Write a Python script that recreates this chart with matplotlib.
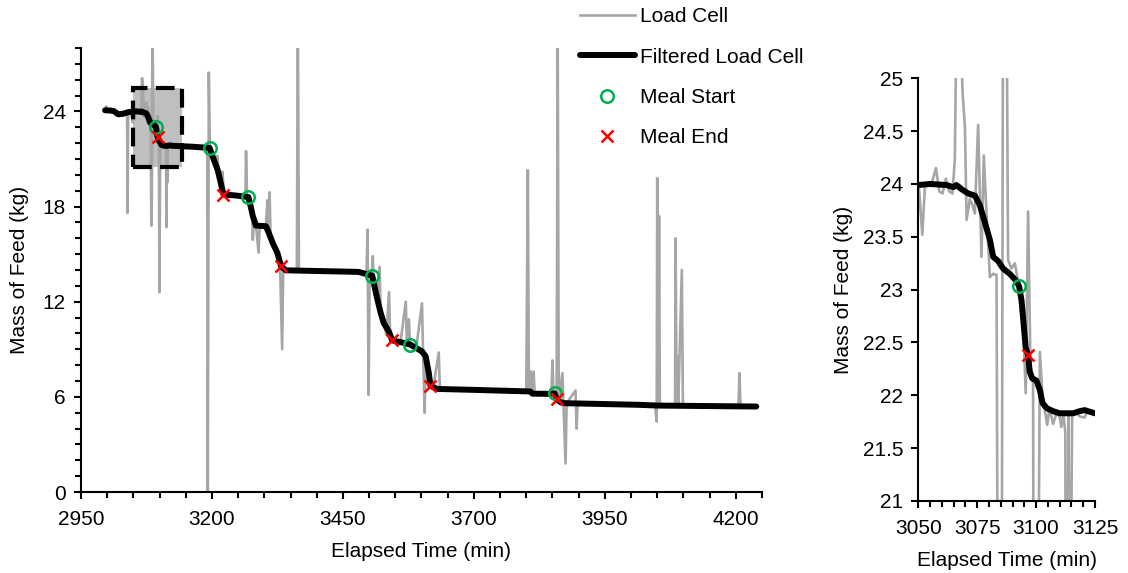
import matplotlib
matplotlib.use("Agg")
import matplotlib.pyplot as plt
from matplotlib.patches import Rectangle
from matplotlib.ticker import MultipleLocator, FixedLocator

plt.rcParams['font.family'] = ['Liberation Sans', 'DejaVu Sans']

# Raw load-cell readings (time in min, mass in kg)
load_time = [2998, 3002, 3008, 3015, 3020, 3026, 3032, 3038, 3039, 3040, 3046, 3049,
             3050, 3050.4, 3051.7, 3052.8, 3054.2, 3055.6, 3057.5, 3058.9, 3060.3, 3061.7,
             3063.1, 3064.5, 3065.5, 3066.5, 3067.7, 3068.8, 3069.8, 3070.5, 3071.9, 3073.0,
             3074.0, 3075.4, 3076.8, 3077.8, 3079.0, 3080.4, 3081.8, 3083.2, 3084.2, 3085.3,
             3086.2, 3087.2, 3088.1, 3089.5, 3091.0, 3092.0, 3093.0, 3094.5, 3095.6, 3096.6,
             3097.6, 3098.7, 3099.7, 3100.8, 3101.6, 3102.7, 3103.7, 3104.7, 3105.7, 3107.2,
             3108.6, 3110.0, 3110.7, 3111.6, 3112.4, 3112.9, 3113.7, 3114.5, 3115.3, 3117.0,
             3118.5, 3120.6, 3122.0, 3124.6, 3126, 3150, 3191, 3192, 3194, 3196, 3203, 3208,
             3210, 3214, 3218, 3220, 3223, 3245, 3264, 3265, 3267, 3272, 3277, 3278, 3280,
             3284, 3289, 3291, 3303, 3306, 3308, 3310, 3312, 3318, 3325, 3330, 3334, 3336,
             3345, 3362, 3364, 3366, 3420, 3480, 3495, 3497, 3499, 3501, 3505, 3507, 3509,
             3515, 3520, 3522, 3528, 3533, 3538, 3540, 3544, 3560, 3570, 3572, 3576, 3578,
             3590, 3601, 3603, 3606, 3608, 3614, 3618, 3622, 3633, 3635, 3700, 3800, 3803,
             3805, 3808, 3810, 3814, 3816, 3848, 3850, 3852, 3858, 3860, 3862, 3869, 3871,
             3875, 3877, 3894, 3896, 3898, 4046, 4049, 4050, 4052, 4053.5, 4055, 4084, 4085,
             4087, 4088, 4090, 4097, 4099, 4205, 4207, 4209, 4239]
load_mass = [24.30, 24.05, 24.10, 24.00, 23.85, 23.90, 23.85, 23.90, 17.60, 23.95, 23.95, 23.30,
             24.00, 23.93, 23.52, 23.97, 24.00, 24.00, 24.15, 23.93, 23.91, 24.05,
             23.93, 23.91, 24.23, 26.10, 25.60, 24.86, 24.54, 23.66, 23.86, 23.80,
             23.72, 24.56, 23.31, 24.27, 23.70, 23.12, 23.15, 23.14, 16.80, 18.50,
             28.60, 27.00, 23.28, 23.20, 23.25, 23.12, 22.97, 22.68, 22.02, 23.74,
             22.27, 22.18, 12.60, 19.50, 22.41, 22.00, 21.86, 21.72, 21.88, 21.73,
             21.83, 21.80, 21.70, 21.82, 21.65, 16.70, 21.80, 19.50, 21.82, 21.85,
             21.80, 21.79, 21.86, 21.83, 21.82, 21.80, 21.72, 0.00, 26.45, 21.60, 21.20, 20.60,
             21.20, 20.00, 19.30, 20.20, 18.80, 18.70, 18.65, 21.50, 18.50, 17.90, 17.30, 15.90, 17.20,
             16.80, 15.10, 16.80, 16.80, 18.40, 16.50, 18.90, 15.90, 15.60, 15.10, 14.30, 9.00, 14.10,
             13.98, 13.96, 30.00, 13.96, 13.92, 13.88, 13.85, 16.55, 6.13, 13.80, 13.70, 14.87, 13.00,
             12.20, 14.20, 11.30, 10.70, 9.90, 12.60, 10.00, 9.60, 9.45, 12.00, 9.40, 10.90, 9.30,
             9.10, 11.90, 8.80, 5.00, 8.50, 7.50, 6.70, 6.50, 8.80, 6.50, 6.44, 6.34, 20.30,
             6.34, 7.60, 6.30, 7.60, 6.20, 6.20, 8.30, 6.20, 6.00, 28.60, 5.80, 7.50, 5.65,
             1.80, 5.60, 6.40, 4.00, 5.58, 5.45, 4.44, 19.80, 5.45, 17.40, 5.45, 5.43, 16.00,
             5.43, 8.55, 5.43, 14.00, 5.42, 5.40, 7.50, 5.40, 5.39]

# Filtered load-cell signal
filt_time = [2996, 3005, 3013, 3021, 3030, 3040, 3050, 3054.9, 3062, 3064.8, 3066.2, 3068.4,
             3071.2, 3074, 3076.1, 3078.2, 3080.4, 3081.8, 3083.9, 3086, 3088.8, 3091.7,
             3092.8, 3093.8, 3094.8, 3095.6, 3096.6, 3097.3, 3098.4, 3100.1, 3101.6, 3102.7,
             3104.4, 3107.2, 3110, 3115.7, 3118.5, 3120.6, 3124.9, 3131, 3160, 3195.5, 3203,
             3211, 3222, 3245, 3269.6, 3274, 3278, 3284, 3303, 3309, 3316, 3325, 3332, 3341,
             3424, 3480, 3506, 3514, 3522, 3528, 3538, 3544, 3563, 3579, 3594, 3601, 3608,
             3614, 3617, 3630, 3700, 3807.5, 3812, 3842, 3854, 3858, 3866, 3874, 4013, 4052,
             4239]
filt_mass = [24.07, 24.06, 24.02, 23.82, 23.85, 23.95, 23.99, 24.00, 23.99, 23.97, 23.99, 23.95,
             23.91, 23.89, 23.80, 23.64, 23.47, 23.31, 23.27, 23.20, 23.15, 23.08,
             23.03, 22.90, 22.65, 22.45, 22.38, 22.22, 22.16, 22.14, 22.05, 21.93,
             21.88, 21.85, 21.83, 21.83, 21.85, 21.86, 21.83, 21.82, 21.78, 21.70, 21.00,
             20.30, 18.76, 18.70, 18.60, 18.00, 17.40, 16.80, 16.76, 16.30, 15.70, 15.07, 14.23, 13.98,
             13.92, 13.88, 13.64, 12.40, 11.30, 10.65, 10.10, 9.56, 9.43, 9.29, 9.00, 8.86, 8.55,
             7.50, 6.70, 6.50, 6.44, 6.34, 6.20, 6.19, 6.22, 5.85, 5.65, 5.60, 5.50, 5.45,
             5.39]

# Detected meals
start_time = [3092.8, 3195.5, 3269.6, 3506, 3579, 3854]
start_mass = [23.03, 21.70, 18.60, 13.64, 9.29, 6.22]
end_time = [3096.6, 3222, 3332, 3544, 3617, 3858]
end_mass = [22.38, 18.76, 14.23, 9.56, 6.70, 5.85]

# Axis ticks
main_xticks = [2950, 3200, 3450, 3700, 3950, 4200]
main_yticks = [0, 6, 12, 18, 24]
zoom_xticks = [3050, 3075, 3100, 3125]
zoom_yticks = [21, 21.5, 22, 22.5, 23, 23.5, 24, 24.5, 25]

# Window shown in the close-up panel
zoom_time = [3050, 3143]
zoom_mass = [20.5, 25.5]

GRAY = '#A6A6A6'
GREEN = '#00B050'
RED = '#FF0000'
FS = 15

fig = plt.figure(figsize=(11.28, 5.73), dpi=100)
ax = fig.add_axes([81/1128, 81/573, 681/1128, 444/573])
axz = fig.add_axes([918.3/1128, 72/573, 176.7/1128, 422.7/573])


def draw(a):
    l1, = a.plot(load_time, load_mass, color=GRAY, lw=1.9, label='Load Cell', zorder=2)
    l2, = a.plot(filt_time, filt_mass, color='black', lw=4.3, solid_capstyle='round',
                 solid_joinstyle='round', label='Filtered Load Cell', zorder=3)
    l3, = a.plot(start_time, start_mass, ls='none', marker='o', ms=9, mfc='none',
                 mec=GREEN, mew=1.8, label='Meal Start', zorder=5)
    l4, = a.plot(end_time, end_mass, ls='none', marker='x', ms=9, mec=RED, mew=1.8,
                 label='Meal End', zorder=6)
    for s in ('top', 'right'):
        a.spines[s].set_visible(False)
    for s in ('left', 'bottom'):
        a.spines[s].set_linewidth(1.5)
    a.tick_params(which='both', direction='out', width=1.5, labelsize=FS)
    a.tick_params(which='major', length=5)
    a.tick_params(which='minor', length=4)
    a.tick_params(axis='x', which='major', pad=8)
    a.tick_params(axis='y', which='major', pad=6)
    a.set_xlabel('Elapsed Time (min)', fontsize=FS, labelpad=9)
    return [l1, l2, l3, l4]


handles = draw(ax)
ax.set_xlim(2950, 4250)
ax.set_ylim(0, 28)
ax.xaxis.set_major_locator(FixedLocator(main_xticks))
ax.xaxis.set_minor_locator(MultipleLocator(50))
ax.yaxis.set_major_locator(FixedLocator(main_yticks))
ax.yaxis.set_minor_locator(MultipleLocator(1))
ax.set_ylabel('Mass of Feed (kg)', fontsize=FS, labelpad=10)

w = zoom_time[1] - zoom_time[0]
h = zoom_mass[1] - zoom_mass[0]
ax.add_patch(Rectangle((zoom_time[0], zoom_mass[0]), w, h, facecolor='#BFBFBF',
                       edgecolor='none', zorder=1))
ax.add_patch(Rectangle((zoom_time[0], zoom_mass[0]), w, h, facecolor='none',
                       edgecolor='black', lw=3, linestyle=(0, (4.5, 2)), zorder=4))

draw(axz)
axz.set_xlim(3050, 3125)
axz.set_ylim(21, 25)
axz.xaxis.set_major_locator(FixedLocator(zoom_xticks))
axz.xaxis.set_minor_locator(MultipleLocator(5))
axz.yaxis.set_major_locator(FixedLocator(zoom_yticks))
axz.yaxis.set_major_formatter(plt.FuncFormatter(lambda v, p: f'{v:g}'))
axz.set_ylabel('Mass of Feed (kg)', fontsize=FS, labelpad=7)

fig.legend(handles=handles, loc='upper left', bbox_to_anchor=(572/1128, 1.0 + 1/573),
           frameon=False, fontsize=FS, handlelength=2.6, handletextpad=0.25,
           labelspacing=1.02, borderaxespad=0.0)

fig.savefig('out.png', dpi=100)
